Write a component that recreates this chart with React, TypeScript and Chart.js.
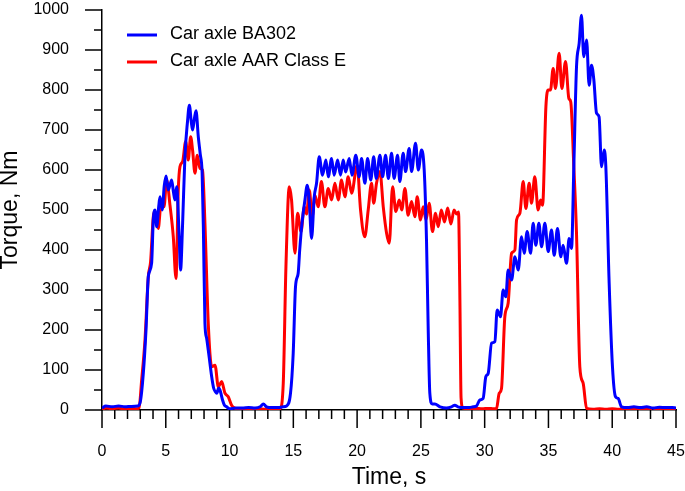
import React, { useEffect, useRef } from "react";
import { Chart, registerables } from "chart.js";

Chart.register(...registerables);

const FONT = '"Liberation Sans", Arial, Helvetica, sans-serif';

const seriesNames = ["Car axle BA302", "Car axle AAR Class E"];
const seriesColors = ["#0000ff", "#ff0000"];

const xTitle = "Time, s";
const yTitle = "Torque, Nm";
const xMin = 0, xMax = 45, xMajor = 5, xMinor = 1;
const yMin = 0, yMax = 1000, yMajor = 100, yMinor = 50;

// Car axle BA302 (blue)
const timeBA302 = [
  0, 0.3, 0.8, 1.3, 1.8, 2.3, 2.8, 3.0, 3.24, 3.45, 3.63, 3.89, 4.02, 4.15, 4.29, 4.45, 4.55, 4.72, 4.88, 5.02,
  5.2, 5.35, 5.46, 5.6, 5.72, 5.85, 6.06, 6.16, 6.32, 6.5, 6.7, 6.85, 7.0, 7.1, 7.25, 7.37, 7.55, 7.7, 7.85, 7.95,
  8.07, 8.2, 8.33, 8.45, 8.6, 8.75, 8.9, 9.0, 9.15, 9.25, 9.45, 9.6, 9.77, 10, 10.5, 11, 11.5, 12, 12.4, 12.65,
  12.9, 13.3, 13.8, 14.2, 14.47, 14.78, 14.99, 15.17, 15.38, 15.5, 15.65, 15.91, 16.09, 16.25, 16.43, 16.64, 16.82, 17.03, 17.29, 17.55,
  17.74, 18.0, 18.2, 18.47, 18.7, 18.91, 19.1, 19.38, 19.6, 19.9, 20.16, 20.35, 20.61, 20.82, 21.07, 21.3, 21.5, 21.79, 22.0, 22.23,
  22.45, 22.7, 22.9, 23.17, 23.35, 23.61, 23.8, 24.08, 24.27, 24.58, 24.8, 25.05, 25.26, 25.44, 25.57, 25.7, 25.89, 26.1, 26.5, 27.0,
  27.4, 27.66, 27.9, 28.3, 28.8, 29.1, 29.36, 29.62, 29.88, 30.09, 30.28, 30.54, 30.8, 30.98, 31.24, 31.45, 31.66, 31.84, 32.11, 32.37,
  32.63, 32.89, 33.1, 33.33, 33.6, 33.8, 34.01, 34.25, 34.46, 34.72, 34.98, 35.24, 35.45, 35.71, 35.97, 36.15, 36.42, 36.62, 36.81, 36.99,
  37.2, 37.41, 37.59, 37.77, 37.99, 38.19, 38.38, 38.56, 38.77, 38.97, 39.16, 39.37, 39.5, 39.76, 40.02, 40.26, 40.46, 40.73, 41.2, 41.7,
  42.2, 42.7, 43.2, 43.7, 44.2, 44.7, 45
];
const torqueBA302 = [
  5, 10, 8, 10, 8, 9, 10, 20, 92, 200, 333, 367, 475, 500, 458, 510, 533, 500, 560, 585,
  550, 565, 575, 545, 525, 558, 425, 350, 467, 633, 720, 762, 720, 700, 730, 748, 683, 640, 592, 450,
  217, 180, 150, 120, 83, 55, 45, 42, 55, 50, 25, 12, 8, 3, 5, 5, 6, 5, 8, 15,
  8, 6, 6, 8, 10, 42, 142, 308, 342, 400, 458, 525, 562, 520, 429, 533, 567, 633, 587, 625,
  583, 629, 587, 625, 587, 625, 595, 629, 587, 637, 583, 629, 567, 629, 575, 633, 579, 637, 583, 637,
  579, 642, 579, 637, 571, 642, 596, 654, 596, 667, 600, 650, 600, 425, 208, 42, 15, 15, 8, 5,
  8, 12, 8, 6, 6, 8, 10, 25, 29, 83, 92, 167, 171, 250, 233, 300, 283, 350, 325, 383,
  350, 433, 392, 446, 392, 467, 412, 467, 408, 467, 396, 450, 387, 454, 383, 412, 367, 429, 404, 608,
  858, 917, 987, 883, 925, 812, 862, 825, 742, 733, 608, 650, 608, 317, 108, 33, 29, 8, 6, 8,
  6, 8, 5, 7, 6, 6, 5
];

// Car axle AAR Class E (red)
const timeAAR = [
  0, 0.3, 0.8, 1.3, 1.8, 2.3, 2.7, 2.9, 3.11, 3.37, 3.63, 3.81, 4.02, 4.15, 4.41, 4.62, 4.86, 5.07, 5.33, 5.59,
  5.8, 5.98, 6.11, 6.32, 6.56, 6.76, 6.95, 7.1, 7.29, 7.47, 7.68, 7.88, 8.07, 8.33, 8.6, 8.86, 9.12, 9.38, 9.64, 9.9,
  10.16, 10.4, 10.8, 11.3, 11.8, 12.3, 12.8, 13.3, 13.8, 13.95, 14.21, 14.42, 14.68, 14.86, 15.13, 15.33, 15.6, 15.86, 16.04, 16.25,
  16.48, 16.69, 16.95, 17.2, 17.47, 17.74, 18.0, 18.26, 18.52, 18.78, 19.04, 19.3, 19.57, 20.0, 20.27, 20.6, 20.87, 21.13, 21.3, 21.52,
  21.79, 22.05, 22.31, 22.52, 22.78, 23.04, 23.3, 23.5, 23.75, 24.0, 24.27, 24.53, 24.71, 24.97, 25.18, 25.4, 25.65, 25.91, 26.15, 26.36,
  26.6, 26.85, 27.1, 27.35, 27.6, 27.8, 27.95, 28.05, 28.15, 28.3, 28.8, 29.3, 29.8, 30.3, 30.7, 30.93, 31.14, 31.32, 31.58, 31.84,
  32.11, 32.37, 32.5, 32.76, 33.02, 33.23, 33.49, 33.67, 33.93, 34.19, 34.38, 34.54, 34.8, 34.98, 35.16, 35.37, 35.55, 35.84, 36.05, 36.34,
  36.6, 36.75, 36.99, 37.2, 37.46, 37.72, 37.99, 38.5, 39, 39.5, 40, 40.5, 41, 41.5, 42, 42.5, 43, 43.2, 43.4, 44,
  44.5, 45
];
const torqueAAR = [
  2, 5, 3, 5, 2, 4, 3, 5, 75, 175, 333, 371, 483, 496, 454, 512, 508, 575, 512, 433,
  329, 550, 608, 621, 671, 625, 683, 650, 592, 637, 604, 600, 467, 217, 108, 112, 58, 71, 42, 33,
  12, 5, 2, 3, 2, 3, 2, 3, 2, 3, 67, 358, 558, 525, 392, 492, 446, 508, 490, 550,
  483, 537, 508, 571, 508, 554, 525, 567, 525, 575, 533, 583, 542, 612, 500, 433, 500, 567, 517, 567,
  596, 508, 442, 417, 558, 496, 525, 500, 554, 487, 521, 483, 533, 475, 508, 475, 517, 446, 492, 458,
  500, 470, 505, 465, 500, 490, 495, 300, 30, 5, 3, 4, 3, 4, 3, 4, 42, 54, 233, 267,
  392, 400, 475, 492, 571, 504, 567, 517, 583, 500, 525, 512, 758, 800, 800, 854, 804, 892, 804, 871,
  779, 770, 608, 442, 108, 67, 4, 2, 3, 2, 3, 2, 3, 2, 3, 2, 0, -5, 2, 3,
  2, 3
];

const toPoints = (xs: number[], ys: number[]) => xs.map((x, i) => ({ x, y: ys[i] }));

// Draws the major and minor tick marks outside the plot area
const tickMarksPlugin = {
  id: "tickMarks",
  afterDraw(chart: any) {
    const { ctx, chartArea } = chart;
    const xs = chart.scales.x;
    const ys = chart.scales.y;
    ctx.save();
    ctx.strokeStyle = "#000";
    ctx.lineWidth = 1.5;
    ctx.lineCap = "butt";
    ctx.beginPath();
    for (let v = xMin; v <= xMax; v += xMinor) {
      const len = v % xMajor === 0 ? 18 : 9;
      const px = xs.getPixelForValue(v);
      ctx.moveTo(px, chartArea.bottom);
      ctx.lineTo(px, chartArea.bottom + len);
    }
    for (let v = yMin; v <= yMax; v += yMinor) {
      const len = v % yMajor === 0 ? 17 : 8;
      const py = ys.getPixelForValue(v);
      ctx.moveTo(chartArea.left, py);
      ctx.lineTo(chartArea.left - len, py);
    }
    ctx.stroke();
    ctx.restore();
  },
};

const insideLegendPlugin = {
  id: "insideLegend",
  afterDraw(chart: any) {
    const { ctx, chartArea } = chart;
    ctx.save();
    chart.data.datasets.forEach((ds: any, i: number) => {
      const y = chartArea.top + 25 + i * 27;
      const x0 = chartArea.left + 25;
      ctx.strokeStyle = ds.borderColor;
      ctx.lineWidth = 3;
      ctx.lineCap = "butt";
      ctx.beginPath();
      ctx.moveTo(x0, y);
      ctx.lineTo(x0 + 30, y);
      ctx.stroke();
      ctx.fillStyle = "#000";
      ctx.font = `18px ${FONT}`;
      ctx.textBaseline = "middle";
      ctx.textAlign = "left";
      ctx.fillText(ds.label, x0 + 43, y - 1);
    });
    ctx.restore();
  },
};

export default function App() {
  const canvasRef = useRef<HTMLCanvasElement | null>(null);

  useEffect(() => {
    if (!canvasRef.current) return;
    const common = {
      borderWidth: 3,
      pointRadius: 0,
      pointHoverRadius: 0,
      fill: false,
      cubicInterpolationMode: "monotone" as const,
      borderJoinStyle: "round" as const,
    };
    const chart = new Chart(canvasRef.current, {
      type: "line",
      data: {
        datasets: [
          {
            ...common,
            label: seriesNames[0],
            data: toPoints(timeBA302, torqueBA302),
            borderColor: seriesColors[0],
            backgroundColor: seriesColors[0],
          },
          {
            ...common,
            label: seriesNames[1],
            data: toPoints(timeAAR, torqueAAR),
            borderColor: seriesColors[1],
            backgroundColor: seriesColors[1],
          },
        ],
      },
      options: {
        animation: false,
        responsive: false,
        maintainAspectRatio: false,
        parsing: false,
        layout: { padding: { top: 10, right: 9, left: 0, bottom: 0 } },
        plugins: {
          legend: { display: false },
          tooltip: { enabled: false },
          title: { display: false },
        },
        scales: {
          x: {
            type: "linear",
            min: xMin,
            max: xMax,
            afterFit: (s: any) => {
              s.height = 81;
            },
            border: { display: true, color: "#000", width: 1.5 },
            grid: {
              display: true,
              drawOnChartArea: false,
              drawTicks: true,
              tickLength: 32,
              tickColor: "rgba(0,0,0,0)",
            },
            ticks: {
              stepSize: xMajor,
              color: "#000",
              padding: 0,
              maxRotation: 0,
              font: { family: FONT, size: 16 },
              callback: (v: any) => String(v),
            },
            title: {
              display: true,
              text: xTitle,
              color: "#000",
              padding: { top: 0, bottom: 0 },
              font: { family: FONT, size: 23, lineHeight: 1.15 },
            },
          },
          y: {
            type: "linear",
            min: yMin,
            max: yMax,
            afterFit: (s: any) => {
              s.width = 102;
            },
            border: { display: true, color: "#000", width: 1.5 },
            grid: {
              display: true,
              drawOnChartArea: false,
              drawTicks: true,
              tickLength: 33,
              tickColor: "rgba(0,0,0,0)",
            },
            ticks: {
              stepSize: yMajor,
              color: "#000",
              padding: 0,
              font: { family: FONT, size: 16 },
              callback: (v: any) => String(v),
            },
            title: {
              display: true,
              text: yTitle,
              color: "#000",
              padding: { top: 0, bottom: 0 },
              font: { family: FONT, size: 23, lineHeight: 0.9 },
            },
          },
        },
      },
      plugins: [tickMarksPlugin, insideLegendPlugin],
    });
    return () => chart.destroy();
  }, []);

  return (
    <div style={{ position: "fixed", left: 0, top: 0, width: 685, height: 491, background: "#fff" }}>
      <canvas ref={canvasRef} width={685} height={491} style={{ display: "block" }} />
    </div>
  );
}
